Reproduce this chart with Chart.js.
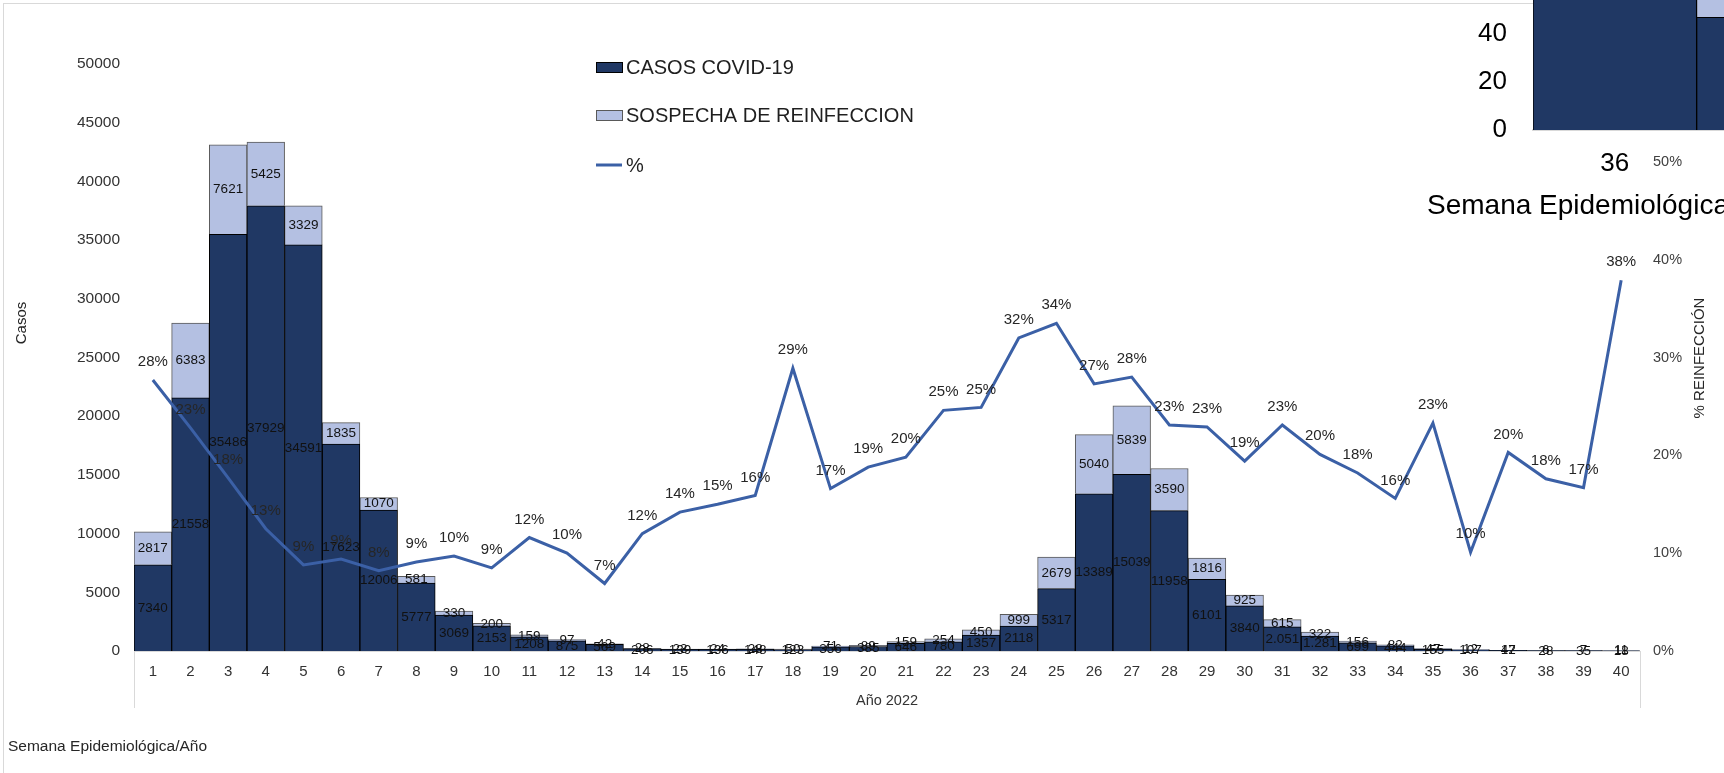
<!DOCTYPE html>
<html>
<head>
<meta charset="utf-8">
<title>Casos COVID-19 y sospecha de reinfección 2022</title>
<script src="https://cdn.jsdelivr.net/npm/chart.js@4.4.1/dist/chart.umd.min.js"></script>
<style>
  html, body { margin: 0; padding: 0; background: #fff; overflow: hidden; }
  body { width: 1724px; height: 773px; position: relative; }
  #frame { position: absolute; left: 3px; top: 3px; width: 1800px; height: 900px; border: 1px solid #d9d9d9; }
  #zoomCanvas { position: absolute; left: 1400px; top: -300px; }
  #mainCanvas { position: absolute; left: 0; top: 0; }
</style>
</head>
<body>
<div id="frame"></div>
<canvas id="zoomCanvas" width="624" height="530"></canvas>
<canvas id="mainCanvas" width="1724" height="773"></canvas>
<script>
// Semanas epidemiológicas 2022
const weeks = ['1','2','3','4','5','6','7','8','9','10','11','12','13','14','15','16','17','18','19','20',
  '21','22','23','24','25','26','27','28','29','30','31','32','33','34','35','36','37','38','39','40'];

// Casos COVID-19 (barra oscura)
const casos = [7340, 21558, 35486, 37929, 34591, 17623, 12006, 5777, 3069, 2153,
  1208, 875, 569, 206, 139, 136, 148, 123, 356, 385,
  646, 780, 1357, 2118, 5317, 13389, 15039, 11958, 6101, 3840,
  2051, 1281, 699, 444, 155, 107, 47, 28, 35, 18];

// Sospecha de reinfección (barra clara)
const reinfeccion = [2817, 6383, 7621, 5425, 3329, 1835, 1070, 581, 330, 200,
  159, 97, 42, 28, 23, 24, 28, 50, 71, 89,
  159, 254, 450, 999, 2679, 5040, 5839, 3590, 1816, 925,
  615, 322, 156, 82, 47, 12, 12, 6, 7, 11];

// % reinfección (línea)
const porcentaje = [27.7, 22.8, 17.7, 12.5, 8.8, 9.4, 8.2, 9.1, 9.7, 8.5,
  11.6, 10.0, 6.9, 12.0, 14.2, 15.0, 15.9, 28.9, 16.6, 18.8,
  19.8, 24.6, 24.9, 32.0, 33.5, 27.3, 28.0, 23.1, 22.9, 19.4,
  23.1, 20.1, 18.2, 15.6, 23.3, 10.1, 20.3, 17.6, 16.7, 37.9];

// semanas cuyo rótulo usa punto de miles
const dottedWeeks = ['31', '32'];

const NAVY = '#203864';
const LIGHT = '#b4c0e2';
const LINE = '#3b60a6';
const FONT = "'Liberation Sans', Arial, sans-serif";

Chart.defaults.font.family = FONT;

function fmtCount(v, i, isCasos) {
    if (isCasos && dottedWeeks.indexOf(weeks[i]) >= 0) {
        return String(v).replace(/\B(?=(\d{3})+(?!\d))/g, '.');
    }
    return String(v);
}

// rótulos de valores en barras y línea
const valueLabels = {
    id: 'valueLabels',
    afterDatasetsDraw(chart) {
        const ctx = chart.ctx;
        ctx.save();
        ctx.textAlign = 'center';
        ctx.textBaseline = 'middle';
        ctx.fillStyle = '#111';
        ctx.font = '13.5px ' + FONT;
        [0, 1].forEach(function (di) {
            const meta = chart.getDatasetMeta(di);
            const data = chart.data.datasets[di].data;
            meta.data.forEach(function (bar, i) {
                const p = bar.getProps(['x', 'y', 'base'], true);
                ctx.fillText(fmtCount(data[i], i, di === 0), p.x, (p.y + p.base) / 2);
            });
        });
        ctx.fillStyle = '#262626';
        ctx.font = '15px ' + FONT;
        chart.getDatasetMeta(2).data.forEach(function (pt, i) {
            ctx.fillText(Math.round(porcentaje[i]) + '%', pt.x, pt.y - 18);
        });
        ctx.restore();
    }
};

// leyenda, títulos de ejes y marco del eje x
const decorations = {
    id: 'decorations',
    afterDraw(chart) {
        const ctx = chart.ctx;
        const area = chart.chartArea;
        ctx.save();

        // líneas verticales del eje de categorías
        ctx.strokeStyle = '#d9d9d9';
        ctx.lineWidth = 1;
        [area.left, area.right].forEach(function (x) {
            ctx.beginPath();
            ctx.moveTo(Math.round(x) + 0.5, area.bottom);
            ctx.lineTo(Math.round(x) + 0.5, area.bottom + 57);
            ctx.stroke();
        });

        // títulos verticales
        ctx.fillStyle = '#262626';
        ctx.textAlign = 'center';
        ctx.textBaseline = 'middle';
        ctx.font = '15px ' + FONT;
        [['Casos', 22, 323], ['% REINFECCIÓN', 1700, 358]].forEach(function (t) {
            ctx.save();
            ctx.translate(t[1], t[2]);
            ctx.rotate(-Math.PI / 2);
            ctx.fillText(t[0], 0, 0);
            ctx.restore();
        });

        ctx.textAlign = 'left';
        ctx.font = '15.5px ' + FONT;
        ctx.fillText('Semana Epidemiológica/Año', 8, 747);

        // leyenda
        const ys = [67, 115, 165];
        ctx.font = '20px ' + FONT;
        chart.data.datasets.forEach(function (ds, i) {
            const y = ys[i];
            if (ds.type === 'line') {
                ctx.strokeStyle = ds.borderColor;
                ctx.lineWidth = 3;
                ctx.beginPath();
                ctx.moveTo(596, y);
                ctx.lineTo(622, y);
                ctx.stroke();
            } else {
                ctx.fillStyle = ds.backgroundColor;
                ctx.fillRect(596, y - 5, 26, 10);
                ctx.strokeStyle = ds.borderColor;
                ctx.lineWidth = 1;
                ctx.strokeRect(596.5, y - 4.5, 26, 10);
            }
            ctx.fillStyle = '#1f1f1f';
            ctx.fillText(ds.label, 626, y + 1);
        });
        ctx.restore();
    }
};

new Chart(document.getElementById('mainCanvas'), {
    type: 'bar',
    data: {
        labels: weeks,
        datasets: [
            {
                label: 'CASOS COVID-19',
                data: casos,
                backgroundColor: NAVY,
                borderColor: '#000',
                borderWidth: 1,
                categoryPercentage: 1,
                barPercentage: 1,
                yAxisID: 'y',
                order: 1
            },
            {
                label: 'SOSPECHA DE REINFECCION',
                data: reinfeccion,
                backgroundColor: LIGHT,
                borderColor: '#595959',
                borderWidth: 1,
                categoryPercentage: 1,
                barPercentage: 1,
                yAxisID: 'y',
                order: 1
            },
            {
                type: 'line',
                label: '%',
                data: porcentaje,
                borderColor: LINE,
                backgroundColor: LINE,
                borderWidth: 3,
                pointRadius: 0,
                tension: 0,
                yAxisID: 'y1',
                order: 0
            }
        ]
    },
    options: {
        responsive: false,
        animation: false,
        events: [],
        layout: { padding: { top: 64, left: 0, right: 0, bottom: 0 } },
        plugins: {
            legend: { display: false },
            tooltip: { enabled: false }
        },
        scales: {
            x: {
                stacked: true,
                grid: { display: false, drawTicks: false },
                border: { color: '#d9d9d9', width: 1 },
                ticks: { font: { size: 15 }, color: '#333', padding: 12, maxRotation: 0, autoSkip: false },
                title: { display: true, text: 'Año 2022', font: { size: 14.5 }, color: '#333', padding: { top: 0, bottom: 63 } },
                afterFit(scale) { scale.height = 122; }
            },
            y: {
                stacked: true,
                position: 'left',
                min: 0,
                max: 50000,
                ticks: {
                    stepSize: 5000,
                    font: { size: 15.5 },
                    color: '#333',
                    padding: 14,
                    callback: function (v) { return String(v); }
                },
                grid: { display: false, drawTicks: false },
                border: { display: false },
                afterFit(scale) { scale.width = 134; }
            },
            y1: {
                position: 'right',
                min: 0,
                max: 60,
                ticks: {
                    stepSize: 10,
                    font: { size: 14.5 },
                    color: '#404040',
                    padding: 13,
                    callback: function (v) { return v === 60 ? '' : v + '%'; }
                },
                grid: { display: false, drawTicks: false },
                border: { display: false },
                afterFit(scale) { scale.width = 84; }
            }
        }
    },
    plugins: [valueLabels, decorations]
});

// fragmento ampliado (semanas 36-38) que asoma arriba a la derecha
const zoomTitle = {
    id: 'zoomTitle',
    afterDraw(chart) {
        const ctx = chart.ctx;
        ctx.save();
        ctx.fillStyle = '#000';
        ctx.font = '28px ' + FONT;
        ctx.textAlign = 'left';
        ctx.textBaseline = 'middle';
        ctx.fillText('Semana Epidemiológica', 27, 506);
        ctx.restore();
    }
};

new Chart(document.getElementById('zoomCanvas'), {
    type: 'bar',
    data: {
        labels: weeks.slice(35, 38),
        datasets: [
            { data: casos.slice(35, 38), backgroundColor: NAVY, borderColor: '#000', borderWidth: 1, categoryPercentage: 1, barPercentage: 1 },
            { data: reinfeccion.slice(35, 38), backgroundColor: LIGHT, borderColor: '#595959', borderWidth: 1, categoryPercentage: 1, barPercentage: 1 }
        ]
    },
    options: {
        responsive: false,
        animation: false,
        events: [],
        layout: { padding: 0 },
        plugins: { legend: { display: false }, tooltip: { enabled: false } },
        scales: {
            x: {
                stacked: true,
                grid: { display: false, drawTicks: false },
                border: { color: '#d9d9d9', width: 2 },
                ticks: { font: { size: 26 }, color: '#000', padding: 18 },
                afterFit(scale) { scale.height = 100; }
            },
            y: {
                stacked: true,
                min: 0,
                max: 162,
                ticks: { stepSize: 20, font: { size: 26 }, color: '#000', padding: 26 },
                grid: { display: false, drawTicks: false },
                border: { display: false },
                afterFit(scale) { scale.width = 133; }
            }
        }
    },
    plugins: [zoomTitle]
});
</script>
</body>
</html>
